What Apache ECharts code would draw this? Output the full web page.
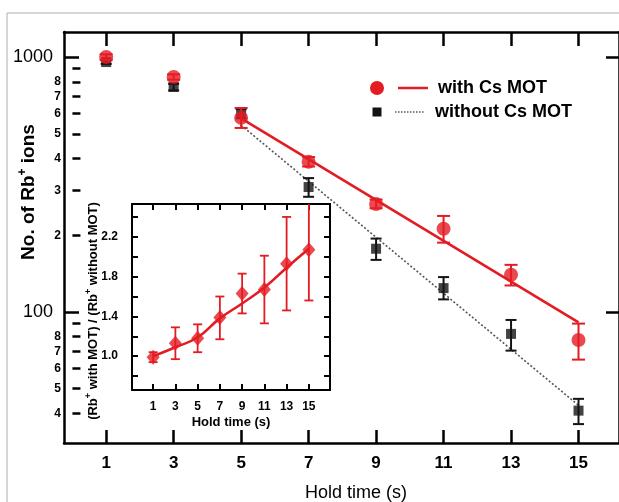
<!DOCTYPE html>
<html>
<head>
<meta charset="utf-8">
<script src="https://cdn.jsdelivr.net/npm/echarts@6/dist/echarts.min.js"></script>
<style>html,body{margin:0;padding:0;background:#fff}#c{width:619px;height:502px}</style>
</head>
<body>
<div id="c"></div>
<script>
// ---------- data ----------
const holdTimes = [1, 3, 5, 7, 9, 11, 13, 15];
const withMOT      = [1000, 835, 577, 388, 265, 212, 140, 77.6];
const withMOTLow   = [975, 815, 527, 372, 255, 187, 127, 65];
const withMOTHigh  = [1025, 855, 631, 405, 276, 238, 153, 90];
const withoutMOT     = [956, 763, 598, 309, 177, 124, 82, 41];
const withoutMOTLow  = [940, 740, 575, 283, 160, 112, 70.5, 36.3];
const withoutMOTHigh = [972, 785, 625, 335, 194, 137, 93, 45.6];
const fitWithX = [5, 15];
const fitWithY = [575, 91];
const fitWithoutX = [5, 15];
const fitWithoutY = [540, 43];

const ratio     = [0.99, 1.13, 1.18, 1.39, 1.63, 1.67, 1.93, 2.07];
const ratioLow  = [0.94, 0.97, 1.04, 1.17, 1.43, 1.33, 1.46, 1.56];
const ratioHigh = [1.04, 1.29, 1.32, 1.60, 1.83, 2.01, 2.40, 2.60];
const ratioFit  = [1.00, 1.09, 1.19, 1.38, 1.53, 1.69, 1.89, 2.08];

const xTickValues = [1, 3, 5, 7, 9, 11, 13, 15];
const yMajorValues = [100, 1000];
const yMinorTicks = [40, 50, 60, 70, 80, 90, 200, 300, 400, 500, 600, 700, 800, 900];
const yMinorLabels = [40, 50, 60, 70, 80, 200, 300, 400, 500, 600, 700, 800];
const insetYTicks = [0.8, 1.0, 1.2, 1.4, 1.6, 1.8, 2.0, 2.2, 2.4];
const insetYLabels = [1.0, 1.4, 1.8, 2.2];

const RED = '#e31b23';
const BLACK = '#141414';
const FONT = '"Liberation Sans", Arial, sans-serif';

// ---------- helpers ----------
function errRender(capHalf, color, lw) {
  return function (params, api) {
    const x = api.value(0), lo = api.value(1), hi = api.value(2);
    const a = api.coord([x, hi]), b = api.coord([x, lo]);
    const style = { stroke: color, lineWidth: lw };
    return {
      type: 'group',
      children: [
        { type: 'line', shape: { x1: a[0], y1: a[1], x2: b[0], y2: b[1] }, style: style },
        { type: 'line', shape: { x1: a[0] - capHalf, y1: a[1], x2: a[0] + capHalf, y2: a[1] }, style: style },
        { type: 'line', shape: { x1: b[0] - capHalf, y1: b[1], x2: b[0] + capHalf, y2: b[1] }, style: style }
      ]
    };
  };
}
const zip = (xs, ys) => xs.map((x, i) => [x, ys[i]]);
const zip3 = (xs, a, b) => xs.map((x, i) => [x, a[i], b[i]]);

const axLine = (w) => ({ show: true, onZero: false, lineStyle: { color: '#000', width: w } });

const chart = echarts.init(document.getElementById('c'), null, { renderer: 'canvas' });

const option = {
  backgroundColor: '#fff',
  animation: false,
  grid: [
    { left: 64, top: 32, right: -8, bottom: 59, containLabel: false },
    { left: 132, top: 204, right: 289, bottom: 112, containLabel: false, show: true,
      backgroundColor: '#fff', borderWidth: 0, z: 5 }
  ],
  xAxis: [
    { gridIndex: 0, type: 'value', position: 'bottom', min: -0.25, max: 16.2,
      axisLine: axLine(2.5), splitLine: { show: false },
      axisTick: { show: true, inside: true, length: 13, customValues: xTickValues, lineStyle: { width: 2.5, color: '#000' } },
      axisLabel: { show: true, customValues: xTickValues, margin: 12, color: '#000',
        fontFamily: FONT, fontSize: 17, fontWeight: 'bold' } },
    { gridIndex: 0, type: 'value', position: 'top', min: -0.25, max: 16.2,
      axisLine: axLine(2.5), splitLine: { show: false },
      axisTick: { show: true, inside: true, length: 14, customValues: xTickValues, lineStyle: { width: 2.5, color: '#000' } },
      axisLabel: { show: false } },
    { gridIndex: 1, type: 'value', position: 'bottom', min: -0.9, max: 16.9, z: 6,
      axisLine: axLine(2), splitLine: { show: false },
      axisTick: { show: true, inside: true, length: 6, customValues: xTickValues, lineStyle: { width: 2, color: '#000' } },
      axisLabel: { show: true, customValues: xTickValues, margin: 11, color: '#000',
        fontFamily: FONT, fontSize: 12, fontWeight: 'bold' },
      name: 'Hold time (s)', nameLocation: 'middle', nameGap: 26,
      nameTextStyle: { color: '#000', fontFamily: FONT, fontSize: 13, fontWeight: 'bold' } },
    { gridIndex: 1, type: 'value', position: 'top', min: -0.9, max: 16.9, z: 6,
      axisLine: axLine(2), splitLine: { show: false },
      axisTick: { show: true, inside: true, length: 6, customValues: xTickValues, lineStyle: { width: 2, color: '#000' } },
      axisLabel: { show: false } }
  ],
  yAxis: [
    { gridIndex: 0, type: 'log', position: 'left', min: 30.6, max: 1254,
      axisLine: axLine(2.5), splitLine: { show: false }, minorTick: { show: false },
      axisTick: { show: true, inside: true, length: 15, customValues: yMajorValues, lineStyle: { width: 2.5, color: '#000' } },
      axisLabel: { show: true, customValues: yMajorValues, margin: 11, color: '#000',
        fontFamily: FONT, fontSize: 18, formatter: v => String(Math.round(v)) } },
    { gridIndex: 0, type: 'log', position: 'left', min: 30.6, max: 1254,
      axisLine: { show: false }, splitLine: { show: false },
      axisTick: { show: true, inside: true, length: 8, customValues: yMinorTicks, lineStyle: { width: 2.5, color: '#000' } },
      axisLabel: { show: true, customValues: yMinorLabels, margin: 3, color: '#000',
        fontFamily: FONT, fontSize: 12, fontWeight: 'bold',
        formatter: v => String(Math.round(v)).charAt(0) } },
    { gridIndex: 0, type: 'log', position: 'right', min: 30.6, max: 1254,
      axisLine: axLine(2.5), splitLine: { show: false },
      axisTick: { show: true, inside: true, length: 13, customValues: yMajorValues, lineStyle: { width: 2.5, color: '#000' } },
      axisLabel: { show: false } },
    { gridIndex: 1, type: 'value', position: 'left', min: 0.66, max: 2.53, z: 6,
      axisLine: axLine(2), splitLine: { show: false },
      axisTick: { show: true, inside: true, length: 6, customValues: insetYTicks, lineStyle: { width: 2, color: '#000' } },
      axisLabel: { show: true, customValues: insetYLabels, margin: 14, color: '#000',
        fontFamily: FONT, fontSize: 12, fontWeight: 'bold', formatter: v => Number(v).toFixed(1) } },
    { gridIndex: 1, type: 'value', position: 'right', min: 0.66, max: 2.53, z: 6,
      axisLine: axLine(2), splitLine: { show: false },
      axisTick: { show: true, inside: true, length: 6, customValues: insetYTicks, lineStyle: { width: 2, color: '#000' } },
      axisLabel: { show: false } }
  ],
  series: [
    // main: without Cs MOT
    { name: 'without Cs MOT fit', type: 'line', xAxisIndex: 0, yAxisIndex: 0, z: 2,
      data: zip(fitWithoutX, fitWithoutY), showSymbol: false, symbol: 'none',
      lineStyle: { color: '#555', width: 1.6, type: [2, 2] } },
    { name: 'without Cs MOT err', type: 'custom', xAxisIndex: 0, yAxisIndex: 0, z: 3,
      renderItem: errRender(5.5, BLACK, 2), encode: { x: 0, y: [1, 2] },
      data: zip3(holdTimes, withoutMOTLow, withoutMOTHigh) },
    { name: 'without Cs MOT', type: 'scatter', xAxisIndex: 0, yAxisIndex: 0, z: 3,
      symbol: 'rect', symbolSize: 10, itemStyle: { color: BLACK },
      data: zip(holdTimes, withoutMOT) },
    // main: with Cs MOT
    { name: 'with Cs MOT fit', type: 'line', xAxisIndex: 0, yAxisIndex: 0, z: 4,
      data: zip(fitWithX, fitWithY), showSymbol: false, symbol: 'none',
      lineStyle: { color: RED, width: 2.6 } },
    { name: 'with Cs MOT err', type: 'custom', xAxisIndex: 0, yAxisIndex: 0, z: 4,
      renderItem: errRender(6.5, RED, 2), encode: { x: 0, y: [1, 2] },
      data: zip3(holdTimes, withMOTLow, withMOTHigh) },
    { name: 'with Cs MOT', type: 'scatter', xAxisIndex: 0, yAxisIndex: 0, z: 4,
      symbol: 'circle', symbolSize: 14, itemStyle: { color: RED },
      data: zip(holdTimes, withMOT) },
    // inset
    { name: 'ratio fit', type: 'line', xAxisIndex: 2, yAxisIndex: 3, z: 7,
      data: zip(holdTimes, ratioFit), smooth: true, showSymbol: false, symbol: 'none',
      lineStyle: { color: RED, width: 2.6 } },
    { name: 'ratio err', type: 'custom', xAxisIndex: 2, yAxisIndex: 3, z: 7, clip: true,
      renderItem: errRender(4.5, RED, 1.8), encode: { x: 0, y: [1, 2] },
      data: zip3(holdTimes, ratioLow, ratioHigh) },
    { name: 'ratio', type: 'scatter', xAxisIndex: 2, yAxisIndex: 3, z: 7,
      symbol: 'diamond', symbolSize: [13, 15], itemStyle: { color: RED },
      data: zip(holdTimes, ratio) }
  ],
  graphic: [
    // light figure border
    { type: 'line', shape: { x1: 7, y1: 13, x2: 619, y2: 13 }, style: { stroke: '#c8c8c8', lineWidth: 1.5 }, z: 0 },
    { type: 'line', shape: { x1: 7, y1: 13, x2: 7, y2: 502 }, style: { stroke: '#c8c8c8', lineWidth: 1.5 }, z: 0 },
    // legend
    { type: 'circle', shape: { cx: 377, cy: 88, r: 7 }, style: { fill: RED }, z: 10 },
    { type: 'line', shape: { x1: 398, y1: 88, x2: 428, y2: 88 }, style: { stroke: RED, lineWidth: 2.5 }, z: 10 },
    { type: 'text', x: 438, y: 88, z: 10,
      style: { text: 'with Cs MOT', fill: '#000', font: 'bold 18px ' + FONT, verticalAlign: 'middle' } },
    { type: 'rect', shape: { x: 372.5, y: 107.5, width: 9, height: 9 }, style: { fill: BLACK }, z: 10 },
    { type: 'line', shape: { x1: 395, y1: 112, x2: 425, y2: 112 }, style: { stroke: '#555', lineWidth: 1.4, lineDash: [1.5, 1.5] }, z: 10 },
    { type: 'text', x: 435, y: 112, z: 10,
      style: { text: 'without Cs MOT', fill: '#000', font: 'bold 18px ' + FONT, verticalAlign: 'middle' } },
    // main x title
    { type: 'text', x: 356, y: 493, z: 10,
      style: { text: 'Hold time (s)', fill: '#000', font: '18px ' + FONT, align: 'center', verticalAlign: 'middle' } },
    // main y title
    { type: 'text', x: 29, y: 192, rotation: Math.PI / 2, z: 10,
      style: { text: '{a|No. of Rb}{b|+}{a| ions}', align: 'center', verticalAlign: 'middle',
        rich: {
          a: { fontFamily: FONT, fontSize: 19, fontWeight: 'bold', fill: '#000', color: '#000', lineHeight: 25 },
          b: { fontFamily: FONT, fontSize: 12, fontWeight: 'bold', fill: '#000', color: '#000', verticalAlign: 'top', lineHeight: 25 }
        } } },
    // inset y title
    { type: 'text', x: 93, y: 311, rotation: Math.PI / 2, z: 10,
      style: { text: '{a|(Rb}{b|+}{a| with MOT) / (Rb}{b|+}{a| without MOT)}', align: 'center', verticalAlign: 'middle',
        rich: {
          a: { fontFamily: FONT, fontSize: 13, fontWeight: 'bold', fill: '#000', color: '#000', lineHeight: 17 },
          b: { fontFamily: FONT, fontSize: 9, fontWeight: 'bold', fill: '#000', color: '#000', verticalAlign: 'top', lineHeight: 17 }
        } } }
  ]
};
chart.setOption(option);
</script>
</body>
</html>
